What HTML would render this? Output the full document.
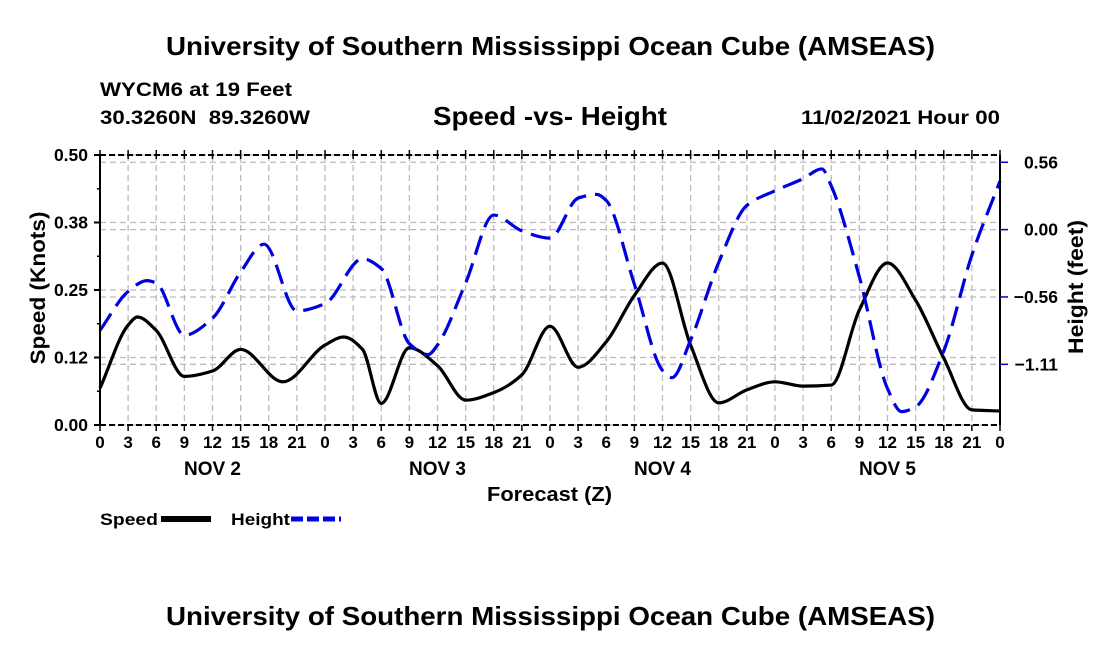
<!DOCTYPE html>
<html><head><meta charset="utf-8"><style>
html,body{margin:0;padding:0;background:#fff;}
svg{display:block;font-family:"Liberation Sans",Arial,sans-serif;font-weight:bold;}
</style></head><body>
<svg id="chart" width="1100" height="650" viewBox="0 0 1100 650" xmlns="http://www.w3.org/2000/svg">
<text x="166" y="55" font-size="26" textLength="769" lengthAdjust="spacingAndGlyphs">University of Southern Mississippi Ocean Cube (AMSEAS)</text>
<text x="100" y="96" font-size="19" textLength="192" lengthAdjust="spacingAndGlyphs">WYCM6 at 19 Feet</text>
<text x="100" y="124" font-size="19" textLength="210" lengthAdjust="spacingAndGlyphs" xml:space="preserve">30.3260N  89.3260W</text>
<text x="433" y="125" font-size="26" textLength="234" lengthAdjust="spacingAndGlyphs">Speed -vs- Height</text>
<text x="801" y="124" font-size="19" textLength="199" lengthAdjust="spacingAndGlyphs">11/02/2021 Hour 00</text>
<g id="grid"></g>
<g id="series"></g>
<g id="axes"></g>
<text transform="translate(45,288) rotate(-90)" text-anchor="middle" font-size="21" textLength="153" lengthAdjust="spacingAndGlyphs">Speed (Knots)</text>
<text transform="translate(1083,287) rotate(-90)" text-anchor="middle" font-size="21" textLength="134" lengthAdjust="spacingAndGlyphs">Height (feet)</text>
<text x="487" y="501" font-size="20" textLength="125" lengthAdjust="spacingAndGlyphs">Forecast (Z)</text>
<g>
<text x="100" y="525" font-size="17" textLength="58" lengthAdjust="spacingAndGlyphs">Speed</text>
<rect x="161" y="516" width="50" height="6" fill="#000"/>
<text x="231" y="525" font-size="17" textLength="59" lengthAdjust="spacingAndGlyphs">Height</text>
<line x1="291" y1="519" x2="341" y2="519" stroke="#0000e0" stroke-width="5" stroke-dasharray="12,4"/>
</g>
<text x="166" y="625" font-size="26" textLength="769" lengthAdjust="spacingAndGlyphs">University of Southern Mississippi Ocean Cube (AMSEAS)</text>
</svg>
<script>
const speedHours=[0,3,4,6,9,12,15,19.5,24,26,28,30,33,36,39,42,45,48,51,54,57,60,63,66,69,72,75,78,81,84,87,90,93,96];
const speedValues=[0.068,0.185,0.2,0.175,0.09,0.1,0.14,0.08,0.148,0.163,0.14,0.04,0.143,0.11,0.046,0.06,0.093,0.183,0.107,0.154,0.24,0.3,0.148,0.041,0.065,0.08,0.072,0.074,0.213,0.3,0.231,0.124,0.028,0.026];
const heightHours=[0,3,5,6,9,12,15,17.5,21,24,28,30,33,35,36,39,42,45,48,51,53,54,57,60,61,63,66,69,72,75,77,78,81,84,85.5,87,90,93,96];
const heightValues=[-0.83,-0.51,-0.42,-0.44,-0.87,-0.73,-0.35,-0.12,-0.67,-0.61,-0.24,-0.32,-0.94,-1.03,-0.95,-0.44,0.12,-0.01,-0.07,0.26,0.29,0.24,-0.45,-1.16,-1.22,-0.91,-0.27,0.20,0.32,0.42,0.50,0.36,-0.39,-1.31,-1.50,-1.46,-1.0,-0.21,0.40];
const speedTicks=[0,0.125,0.25,0.375,0.5];
const speedTickLabels=["0.00","0.12","0.25","0.38","0.50"];
const heightTicks=[-1.11,-0.555,0,0.555];
const heightTickLabels=["\u22121.11","\u22120.56","0.00","0.56"];
const hourTicks=[0,3,6,9,12,15,18,21,24,27,30,33,36,39,42,45,48,51,54,57,60,63,66,69,72,75,78,81,84,87,90,93,96];
const dayLabels=["NOV 2","NOV 3","NOV 4","NOV 5"];
const dayCenters=[12,36,60,84];

const X0=100,X1=1000,Y0=425,Y1=155;
const HMIN=-1.61,HMAX=0.615;
const xs=h=>X0+(h/96)*(X1-X0);
const ys=v=>Y0-(v/0.5)*(Y0-Y1);
const yh=v=>Y0-((v-HMIN)/(HMAX-HMIN))*(Y0-Y1);
const NS="http://www.w3.org/2000/svg";
function mk(tag,attrs,parent){const e=document.createElementNS(NS,tag);for(const k in attrs)e.setAttribute(k,attrs[k]);parent.appendChild(e);return e;}
const grid=document.getElementById('grid'),axes=document.getElementById('axes'),series=document.getElementById('series');

hourTicks.forEach(h=>{
  const l=mk('line',{x1:xs(h),x2:xs(h),y1:Y1,y2:Y0,stroke:'#bbb','stroke-width':1.3,'stroke-dasharray':'6,4'},grid);
  
  
});
speedTicks.forEach(v=>{
  const l=mk('line',{x1:X0,x2:X1,y1:ys(v),y2:ys(v),stroke:'#bbb','stroke-width':1.3,'stroke-dasharray':'6,4'},grid);
  
  
});
heightTicks.forEach(v=>{
  const l=mk('line',{x1:X0,x2:X1,y1:yh(v),y2:yh(v),stroke:'#bbb','stroke-width':1.3,'stroke-dasharray':'6,4'},grid);
  
  
});

function monotonePath(hours,vals,yf){
  const n=hours.length,x=hours,y=vals,d=[],m=[];
  for(let i=0;i<n-1;i++)d.push((y[i+1]-y[i])/(x[i+1]-x[i]));
  m[0]=d[0];m[n-1]=d[n-2];
  for(let i=1;i<n-1;i++){
    if(d[i-1]*d[i]<=0)m[i]=0;
    else{const w1=2*(x[i+1]-x[i])+(x[i]-x[i-1]),w2=(x[i+1]-x[i])+2*(x[i]-x[i-1]);m[i]=(w1+w2)/(w1/d[i-1]+w2/d[i]);}
  }
  let p='M'+xs(x[0])+','+yf(y[0]);
  for(let i=0;i<n-1;i++){
    const h=x[i+1]-x[i];
    p+=' C'+xs(x[i]+h/3)+','+yf(y[i]+m[i]*h/3)+' '+xs(x[i+1]-h/3)+','+yf(y[i+1]-m[i+1]*h/3)+' '+xs(x[i+1])+','+yf(y[i+1]);
  }
  return p;
}
const sp=mk('path',{d:monotonePath(speedHours,speedValues,ys),fill:'none',stroke:'#000','stroke-width':3.2},series);


const hp=mk('path',{d:monotonePath(heightHours,heightValues,yh),fill:'none',stroke:'#0000e0','stroke-width':3.2,'stroke-dasharray':'20,9'},series);



const la=mk('line',{x1:X0,x2:X0,y1:Y1,y2:Y0,stroke:'#000','stroke-width':2},axes);


const ra=mk('line',{x1:X1,x2:X1,y1:Y1,y2:Y0,stroke:'#000','stroke-width':2},axes);


const ba=mk('line',{x1:X0,x2:X1,y1:Y0,y2:Y0,stroke:'#000','stroke-width':2,'stroke-dasharray':'6,3'},axes);


const ta=mk('line',{x1:X0,x2:X1,y1:Y1,y2:Y1,stroke:'#000','stroke-width':2,'stroke-dasharray':'6,3'},axes);



speedTicks.forEach((v,i)=>{
  mk('line',{x1:X0-6,x2:X0,y1:ys(v),y2:ys(v),stroke:'#000','stroke-width':2},axes);
  const t=mk('text',{x:X0-12,y:ys(v)+6,'text-anchor':'end','font-size':17.5},axes);
  t.textContent=speedTickLabels[i];
  
  
});
[0.0625,0.1875,0.3125,0.4375].forEach(v=>mk('line',{x1:X0-3,x2:X0,y1:ys(v),y2:ys(v),stroke:'#000','stroke-width':1.5},axes));
heightTicks.forEach((v,i)=>{
  mk('line',{x1:X1,x2:X1+8,y1:yh(v),y2:yh(v),stroke:'#0000c0','stroke-width':1.5},axes);
  const t=mk('text',{x:1058,y:yh(v)+6,'text-anchor':'end','font-size':17.5},axes);
  t.textContent=heightTickLabels[i];
  
  
});
hourTicks.forEach(h=>{
  mk('line',{x1:xs(h),x2:xs(h),y1:Y0,y2:Y0+6,stroke:'#000','stroke-width':1.5},axes);
  mk('line',{x1:xs(h),x2:xs(h),y1:Y1-5,y2:Y1+4,stroke:'#000','stroke-width':1.5},axes);
  const t=mk('text',{x:xs(h),y:Y0+23,'text-anchor':'middle','font-size':17},axes);
  t.textContent=String(h%24);
  
  
});
dayLabels.forEach((d,i)=>{
  const t=mk('text',{x:xs(dayCenters[i]),y:475,'text-anchor':'middle','font-size':19},axes);
  t.textContent=d;
  
  
});
</script>
</body></html>
